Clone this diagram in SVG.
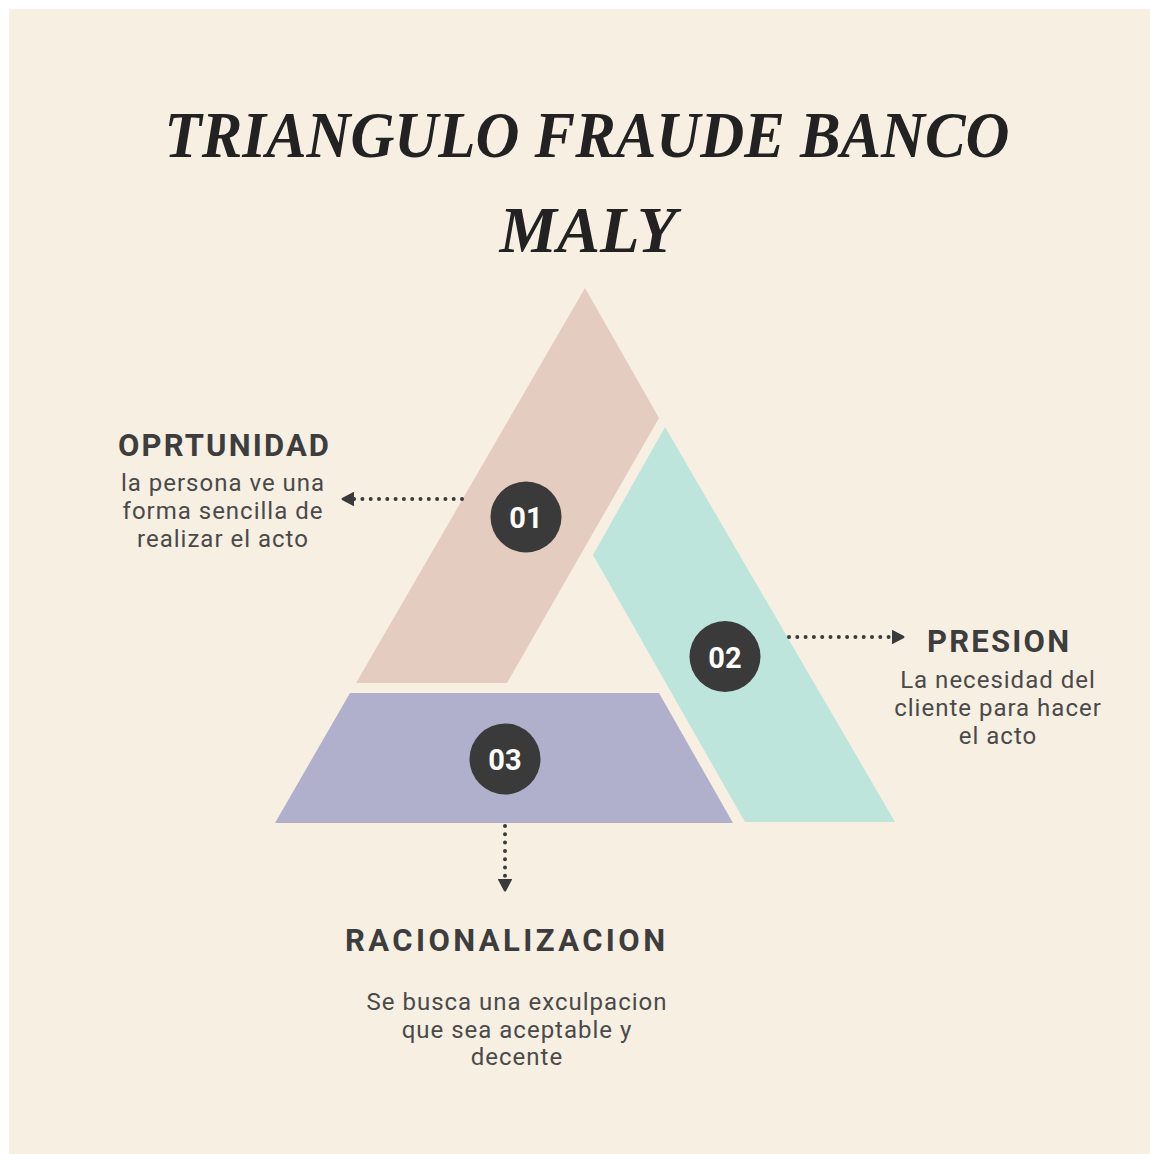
<svg xmlns="http://www.w3.org/2000/svg" width="1150" height="1154" viewBox="0 0 1150 1154">
  <defs>
    <style>
      .title { font-family: "Liberation Serif", "DejaVu Serif", serif; font-weight: bold; font-style: italic; font-size: 66px; fill: #222222; }
      .head { font-family: Roboto, "Liberation Sans", sans-serif; font-weight: bold; font-size: 31px; fill: #3d3d3d; }
      .body { font-family: Roboto, "Liberation Sans", sans-serif; font-size: 24px; letter-spacing: 1px; fill: #4a4a4a; text-anchor: middle; }
      .num { font-family: Roboto, "Liberation Sans", sans-serif; font-weight: bold; font-size: 29px; fill: #ffffff; text-anchor: middle; }
      .badge { fill: #3a3a3a; }
      .dots { fill: none; stroke: #3a3a3a; stroke-width: 4; stroke-linecap: round; stroke-dasharray: 0 8.3; }
    </style>
    <marker id="arrow" viewBox="0 0 14 16" refX="1" refY="8" markerWidth="14" markerHeight="16" markerUnits="userSpaceOnUse" orient="auto">
      <path d="M1,1.5 Q0.5,0.5 2,1.2 L13,7 Q14,8 13,9 L2,14.8 Q0.5,15.5 1,14.5 Z" fill="#3a3a3a"/>
    </marker>
  </defs>

  <rect x="0" y="0" width="1150" height="1154" fill="#ffffff"/>
  <rect x="9" y="9" width="1141" height="1145" fill="#F6EFE2"/>

  <g id="title">
    <text class="title" x="587" y="157" text-anchor="middle" textLength="845" lengthAdjust="spacingAndGlyphs">TRIANGULO FRAUDE BANCO</text>
    <text class="title" x="588" y="252" text-anchor="middle" textLength="177" lengthAdjust="spacingAndGlyphs">MALY</text>
  </g>

  <g id="node-01">
    <polygon points="585,288 659,418 507,683 356,683" fill="#E5CCC1"/>
    <circle class="badge" cx="526" cy="517" r="35.5"/>
    <text class="num" x="526" y="528">01</text>
  </g>

  <g id="node-02">
    <polygon points="665,427 895,822 745,822 593,555" fill="#BDE5DC"/>
    <circle class="badge" cx="725" cy="656.5" r="35.5"/>
    <text class="num" x="725" y="667.5">02</text>
  </g>

  <g id="node-03">
    <polygon points="350,693 659,693 733,823 275,823" fill="#B0B0CD"/>
    <circle class="badge" cx="505" cy="759" r="35.5"/>
    <text class="num" x="505" y="770">03</text>
  </g>

  <g id="connectors">
    <line class="dots" x1="462" y1="499" x2="354" y2="499" marker-end="url(#arrow)"/>
    <line class="dots" x1="789" y1="637" x2="892" y2="637" marker-end="url(#arrow)"/>
    <line class="dots" x1="505" y1="826" x2="505" y2="879" marker-end="url(#arrow)"/>
  </g>

  <g id="label-oportunidad">
    <text class="head" x="118" y="456" textLength="211" lengthAdjust="spacing">OPRTUNIDAD</text>
    <text class="body" x="223" y="491">la persona ve una</text>
    <text class="body" x="223" y="519">forma sencilla de</text>
    <text class="body" x="223" y="547">realizar el acto</text>
  </g>

  <g id="label-presion">
    <text class="head" x="927" y="652" textLength="142" lengthAdjust="spacing">PRESION</text>
    <text class="body" x="998" y="688">La necesidad del</text>
    <text class="body" x="998" y="716">cliente para hacer</text>
    <text class="body" x="998" y="744">el acto</text>
  </g>

  <g id="label-racionalizacion">
    <text class="head" x="345" y="951" textLength="320" lengthAdjust="spacing">RACIONALIZACION</text>
    <text class="body" x="517" y="1010">Se busca una exculpacion</text>
    <text class="body" x="517" y="1038">que sea aceptable y</text>
    <text class="body" x="517" y="1065">decente</text>
  </g>
</svg>
